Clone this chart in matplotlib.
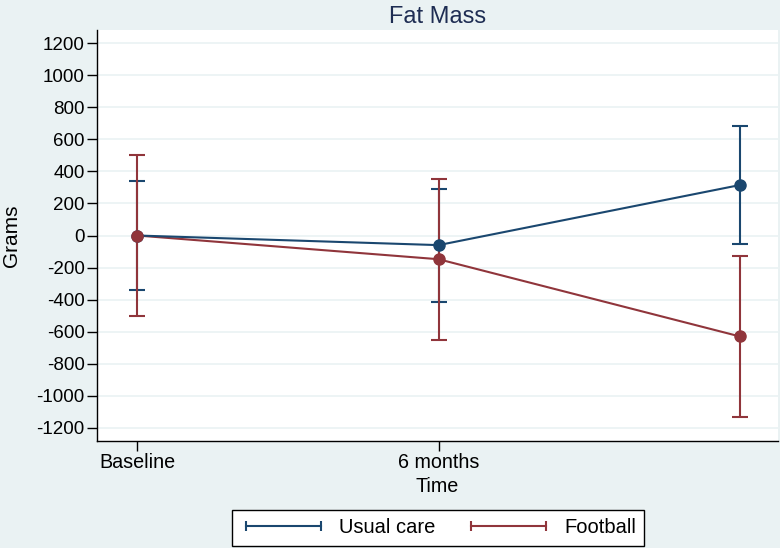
import matplotlib.pyplot as plt
from matplotlib.lines import Line2D

plt.rcParams['font.family'] = ['Liberation Sans', 'DejaVu Sans']
plt.rcParams['axes.unicode_minus'] = False

# time points (third one has no tick label in the original)
timepoints = [0, 1, 2]
tick_pos = [0, 1]
tick_labels = ['Baseline', '6 months']

# Usual care: mean change and CI bounds (grams)
usual_mean = [0, -60, 315]
usual_lo = [-342, -412, -55]
usual_hi = [342, 288, 685]

# Football
football_mean = [0, -148, -630]
football_lo = [-500, -651, -1130]
football_hi = [502, 350, -125]

blue = '#1a476f'
red = '#90353b'
bg = '#eaf2f3'

fig = plt.figure(figsize=(7.8, 5.48), dpi=100, facecolor=bg)
ax = fig.add_axes([0.1244, 0.1953, 0.873, 0.7499])
ax.set_facecolor('white')

# connecting lines
ax.plot(timepoints, football_mean, color=red, lw=1.5, zorder=2)
ax.plot(timepoints, usual_mean, color=blue, lw=1.5, zorder=2)

# confidence interval caps
for mean, lo, hi, c, z in [(usual_mean, usual_lo, usual_hi, blue, 3),
                           (football_mean, football_lo, football_hi, red, 4)]:
    yerr = [[m - l for m, l in zip(mean, lo)], [h - m for m, h in zip(mean, hi)]]
    ax.errorbar(timepoints, mean, yerr=yerr, fmt='none', ecolor=c,
                elinewidth=1.5, capsize=5.5, capthick=1.5, zorder=z)

ax.plot(timepoints, usual_mean, 'o', color=blue, ms=8, zorder=5)
ax.plot(timepoints, football_mean, 'o', color=red, ms=8, zorder=6)

ax.set_xlim(-0.133, 2.126)
ax.set_ylim(-1282, 1282)
ax.set_yticks(range(-1200, 1201, 200))
ax.set_xticks(tick_pos)
ax.set_xticklabels(tick_labels)
ax.yaxis.grid(True, color=bg, lw=1.2)
ax.set_axisbelow(True)
for s in ['top', 'right']:
    ax.spines[s].set_visible(False)
for s in ['left', 'bottom']:
    ax.spines[s].set_color('black')
    ax.spines[s].set_linewidth(1.0)
ax.tick_params(axis='both', length=7, width=1, pad=2, colors='black')
ax.tick_params(axis='y', labelsize=13.5)
ax.tick_params(axis='x', labelsize=14.2)

ax.set_ylabel('Grams', fontsize=15, labelpad=11)
ax.set_xlabel('Time', fontsize=14.2, labelpad=3)
ax.set_title('Fat Mass', fontsize=17, color='#1e2d53', pad=5)

handles = [Line2D([0, 1], [0, 0], color=blue, lw=1.5, marker='|', ms=7, mew=1.5),
           Line2D([0, 1], [0, 0], color=red, lw=1.5, marker='|', ms=7, mew=1.5)]
leg = fig.legend(handles, ['Usual care', 'Football'], loc='center',
                 bbox_to_anchor=(0.5615, 0.0365), ncol=2, fontsize=14.5,
                 numpoints=2, handlelength=4.3, columnspacing=1.5,
                 fancybox=False, framealpha=1, edgecolor='black',
                 borderpad=0.4, handletextpad=0.6, borderaxespad=0)
leg.get_frame().set_linewidth(1.0)

fig.savefig('out.png', dpi=100, facecolor=bg)
